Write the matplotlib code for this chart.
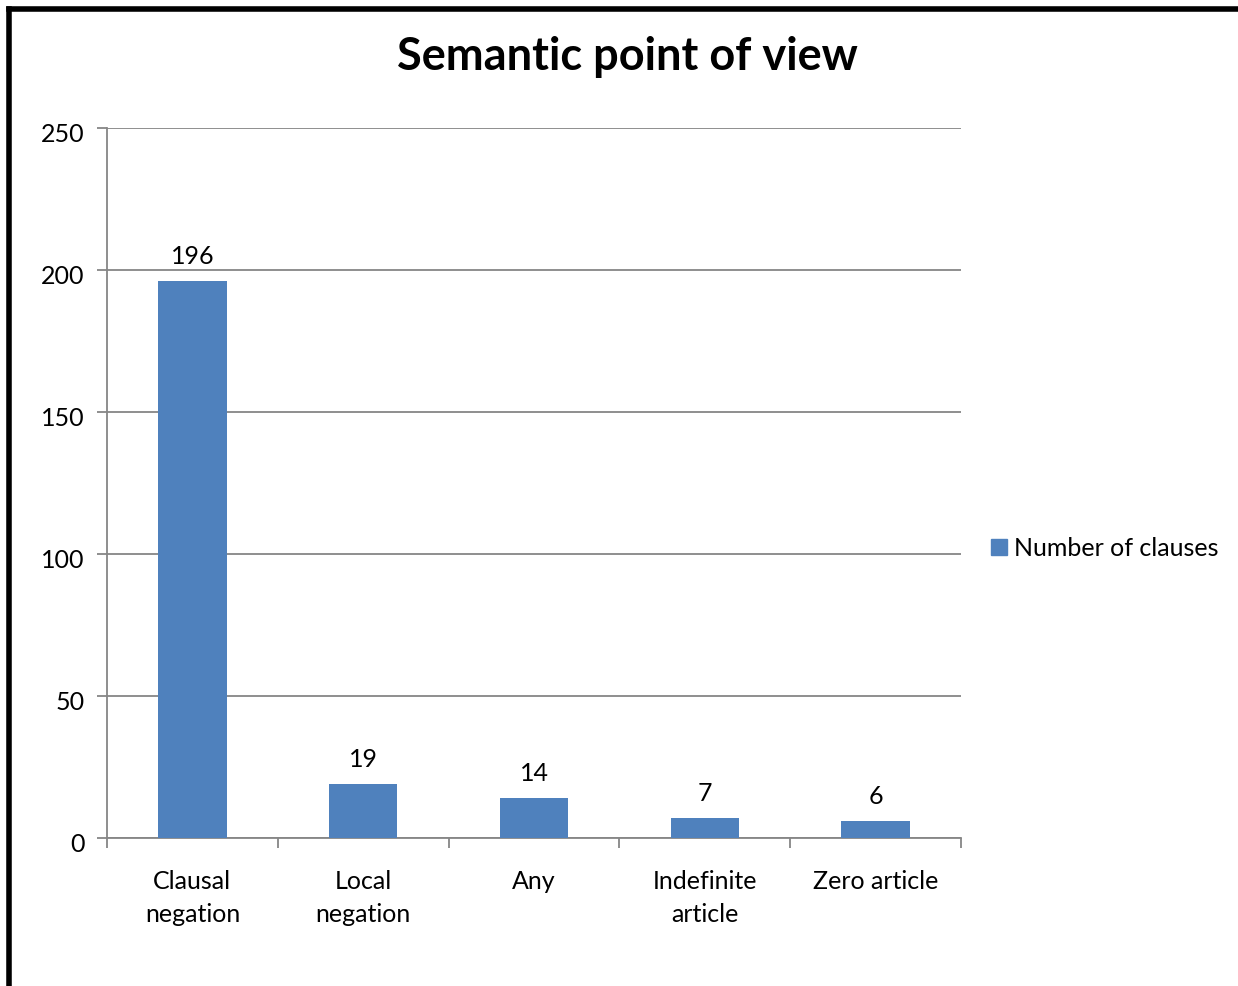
import matplotlib
matplotlib.use("Agg")
import matplotlib.pyplot as plt
import matplotlib.transforms as mtransforms
from matplotlib.patches import Rectangle
from matplotlib.lines import Line2D

categories = ["Clausal\nnegation", "Local\nnegation", "Any", "Indefinite\narticle", "Zero article"]
values = [196, 19, 14, 7, 6]
series_name = "Number of clauses"
title = "Semantic point of view"
yticks = [0, 50, 100, 150, 200, 250]

bar_color = "#4F81BD"
grid_color = "#868686"
font = "Lato"

W, H = 1238, 987
fig = plt.figure(figsize=(W / 100, H / 100), dpi=100)

# plot area in pixel coordinates
left, right, top, bottom = 107, 961, 129, 839
ax = fig.add_axes([left / W, 1 - bottom / H, (right - left) / W, (bottom - top) / H])

x = list(range(len(categories)))
ax.bar(x, values, width=0.4, color=bar_color, zorder=3)
ax.set_xlim(-0.5, len(categories) - 0.5)
ax.set_ylim(0, 250)

ax.set_yticks(yticks)
ax.set_yticklabels([str(t) for t in yticks], fontsize=18, family=font)
ax.yaxis.grid(True, color=grid_color, linewidth=1.3, zorder=0)
ax.tick_params(axis="y", length=7, width=1.3, color=grid_color, pad=9, direction="out")
shift = mtransforms.ScaledTranslation(0, -4 / 100, fig.dpi_scale_trans)
for lbl in ax.get_yticklabels():
    lbl.set_transform(lbl.get_transform() + shift)

ax.set_xticks(x)
ax.set_xticklabels(categories, fontsize=18, family=font, linespacing=1.55)
ax.set_xticks([i - 0.5 for i in range(len(categories) + 1)], minor=True)
ax.tick_params(axis="x", which="major", length=0, pad=22)
ax.tick_params(axis="x", which="minor", length=7, width=1.3, color=grid_color, direction="out")

for side in ["top", "right"]:
    ax.spines[side].set_visible(False)
for side in ["left", "bottom"]:
    ax.spines[side].set_color(grid_color)
    ax.spines[side].set_linewidth(1.3)

for xi, v in zip(x, values):
    ax.annotate(str(v), (xi, v), xytext=(0, 10), textcoords="offset points",
                ha="center", va="bottom", fontsize=18, family=font)

fig.text(627 / W, 1 - 57 / H, title, ha="center", va="center",
         fontsize=32.5, fontweight="bold", family=font)

# legend
fig.patches.append(Rectangle((991 / W, 1 - 556 / H), 16 / W, 16 / H,
                             transform=fig.transFigure, color=bar_color))
fig.text(1014 / W, 1 - 548 / H, series_name, ha="left", va="center",
         fontsize=18, family=font)

# outer frame (left and top edges)
fig.add_artist(Line2D([9 / W, 9 / W], [0, 1 - 10 / H], transform=fig.transFigure,
                      color="black", linewidth=4, solid_capstyle="projecting"))
fig.add_artist(Line2D([9 / W, 1], [1 - 10 / H, 1 - 10 / H], transform=fig.transFigure,
                      color="black", linewidth=4, solid_capstyle="projecting"))

fig.savefig("out.png", dpi=100)
